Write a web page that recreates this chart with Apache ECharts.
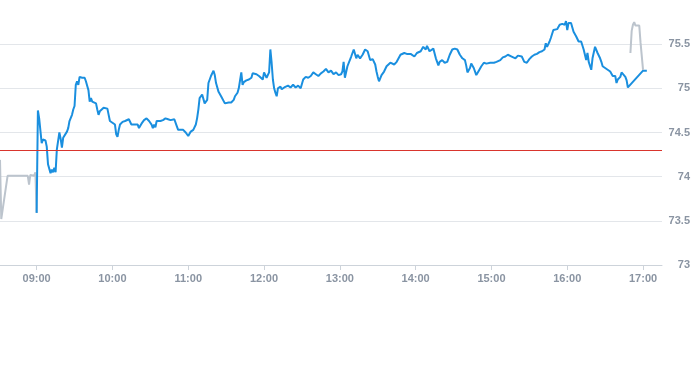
<!DOCTYPE html>
<html>
<head>
<meta charset="utf-8">
<script src="https://cdn.jsdelivr.net/npm/echarts@6/dist/echarts.min.js"></script>
<style>
  html, body { margin: 0; padding: 0; background: #fff; }
  #chart { width: 693px; height: 365px; }
</style>
</head>
<body>
<div id="chart"></div>
<script>
// one trading day, time + price
var day = '2024-01-02 ';

var preMarket = [
    ['08:31', 74.19], ['08:32', 73.52], ['08:37', 74.01], ['08:53', 74.01], ['08:54', 73.91],
    ['08:55', 74.02], ['08:56', 74.04], ['08:58', 74.01], ['08:59', 74.05], ['09:00', 73.59]
];

var mainSession = [
    ['09:00', 73.59], ['09:01', 74.75], ['09:02', 74.66], ['09:04', 74.38], ['09:05', 74.42], ['09:06', 74.40],
    ['09:07', 74.41], ['09:08', 74.34], ['09:09', 74.14], ['09:10', 74.12], ['09:11', 74.04], ['09:12', 74.08],
    ['09:13', 74.05], ['09:14', 74.10], ['09:15', 74.05], ['09:16', 74.31], ['09:18', 74.50], ['09:19', 74.43],
    ['09:20', 74.33], ['09:21', 74.44], ['09:22', 74.46], ['09:24', 74.51], ['09:25', 74.55], ['09:26', 74.63],
    ['09:27', 74.61], ['09:28', 74.70], ['09:29', 74.76], ['09:30', 74.80], ['09:31', 75.04], ['09:32', 75.08],
    ['09:33', 75.04], ['09:34', 75.13], ['09:35', 75.15], ['09:36', 75.12], ['09:37', 75.10], ['09:38', 75.12],
    ['09:39', 75.08], ['09:40', 75.03], ['09:41', 74.98], ['09:42', 74.85], ['09:43', 74.89], ['09:44', 74.85],
    ['09:45', 74.87], ['09:47', 74.83], ['09:48', 74.76], ['09:49', 74.70], ['09:50', 74.74], ['09:51', 74.76],
    ['09:53', 74.78], ['09:54', 74.79], ['09:56', 74.77], ['09:57', 74.70], ['09:58', 74.63], ['09:59', 74.65],

    ['10:00', 74.61], ['10:02', 74.59], ['10:03', 74.48], ['10:04', 74.45], ['10:05', 74.53], ['10:06', 74.59],
    ['10:08', 74.62], ['10:09', 74.60], ['10:10', 74.63], ['10:11', 74.61], ['10:13', 74.65], ['10:14', 74.66],
    ['10:15', 74.59], ['10:16', 74.61], ['10:18', 74.59], ['10:19', 74.57], ['10:20', 74.59], ['10:21', 74.55],
    ['10:23', 74.60], ['10:24', 74.59], ['10:25', 74.64], ['10:27', 74.66], ['10:28', 74.68], ['10:29', 74.63],
    ['10:31', 74.59], ['10:32', 74.55], ['10:33', 74.59], ['10:34', 74.56], ['10:35', 74.63], ['10:36', 74.65],
    ['10:38', 74.63], ['10:39', 74.65], ['10:40', 74.64], ['10:42', 74.66], ['10:43', 74.68], ['10:44', 74.65],
    ['10:46', 74.64], ['10:47', 74.65], ['10:49', 74.65], ['10:50', 74.63], ['10:51', 74.57], ['10:52', 74.53],
    ['10:54', 74.53], ['10:55', 74.51], ['10:56', 74.53], ['10:58', 74.50], ['10:59', 74.48],

    ['11:00', 74.46], ['11:02', 74.51], ['11:03', 74.53], ['11:04', 74.53], ['11:06', 74.59], ['11:07', 74.66],
    ['11:08', 74.76], ['11:09', 74.89], ['11:11', 74.93], ['11:12', 74.92], ['11:13', 74.83], ['11:15', 74.87],
    ['11:16', 75.06], ['11:17', 75.10], ['11:18', 75.14], ['11:19', 75.16], ['11:20', 75.20], ['11:21', 75.15],
    ['11:22', 75.06], ['11:24', 74.96], ['11:26', 74.91], ['11:27', 74.89], ['11:29', 74.83], ['11:30', 74.83],
    ['11:32', 74.84], ['11:34', 74.84], ['11:36', 74.87], ['11:37', 74.91], ['11:39', 74.95], ['11:40', 75.00],
    ['11:42', 75.18], ['11:43', 75.04], ['11:44', 75.07], ['11:46', 75.09], ['11:48', 75.10], ['11:50', 75.12],
    ['11:51', 75.17], ['11:52', 75.15], ['11:54', 75.16], ['11:56', 75.14], ['11:57', 75.15], ['11:59', 75.10],

    ['12:00', 75.18], ['12:02', 75.12], ['12:03', 75.10], ['12:04', 75.18], ['12:05', 75.44], ['12:06', 75.29],
    ['12:07', 75.10], ['12:08', 75.00], ['12:09', 74.95], ['12:10', 74.91], ['12:11', 75.00], ['12:13', 75.02],
    ['12:14', 74.99], ['12:16', 75.01], ['12:17', 74.99], ['12:19', 75.03], ['12:21', 75.01], ['12:23', 75.04],
    ['12:25', 75.01], ['12:27', 75.03], ['12:29', 75.00], ['12:31', 75.10], ['12:33', 75.13], ['12:35', 75.12],
    ['12:37', 75.14], ['12:39', 75.18], ['12:41', 75.16], ['12:43', 75.14], ['12:45', 75.17], ['12:47', 75.19],
    ['12:49', 75.22], ['12:50', 75.23], ['12:51', 75.18], ['12:53', 75.20], ['12:55', 75.16], ['12:57', 75.18],
    ['12:59', 75.15],

    ['13:01', 75.16], ['13:02', 75.19], ['13:03', 75.30], ['13:04', 75.12], ['13:06', 75.25], ['13:07', 75.27],
    ['13:09', 75.36], ['13:11', 75.44], ['13:13', 75.34], ['13:14', 75.38], ['13:16', 75.34], ['13:18', 75.38],
    ['13:20', 75.44], ['13:22', 75.42], ['13:24', 75.32], ['13:26', 75.33], ['13:28', 75.27], ['13:29', 75.19],
    ['13:30', 75.13], ['13:31', 75.08], ['13:33', 75.15], ['13:35', 75.19], ['13:37', 75.25], ['13:40', 75.29],
    ['13:43', 75.27], ['13:45', 75.30], ['13:48', 75.38], ['13:51', 75.40], ['13:53', 75.39], ['13:56', 75.39],
    ['13:59', 75.36],

    ['14:01', 75.40], ['14:04', 75.42], ['14:06', 75.47], ['14:08', 75.44], ['14:09', 75.48], ['14:11', 75.42],
    ['14:12', 75.44], ['14:14', 75.45], ['14:16', 75.34], ['14:18', 75.26], ['14:19', 75.30], ['14:21', 75.32],
    ['14:23', 75.29], ['14:25', 75.30], ['14:27', 75.38], ['14:29', 75.44], ['14:31', 75.45], ['14:33', 75.44],
    ['14:35', 75.38], ['14:37', 75.34], ['14:39', 75.32], ['14:40', 75.26], ['14:41', 75.18], ['14:43', 75.23],
    ['14:44', 75.28], ['14:46', 75.23], ['14:48', 75.15], ['14:50', 75.20], ['14:52', 75.25], ['14:54', 75.29],
    ['14:56', 75.28], ['14:59', 75.29],

    ['15:02', 75.29], ['15:04', 75.30], ['15:07', 75.32], ['15:09', 75.35], ['15:11', 75.36], ['15:13', 75.38],
    ['15:16', 75.36], ['15:19', 75.34], ['15:21', 75.37], ['15:24', 75.36], ['15:26', 75.30], ['15:28', 75.29],
    ['15:30', 75.33], ['15:32', 75.36], ['15:34', 75.38], ['15:36', 75.39], ['15:38', 75.41], ['15:40', 75.42],
    ['15:42', 75.44], ['15:43', 75.51], ['15:44', 75.47], ['15:46', 75.53], ['15:47', 75.57], ['15:49', 75.66],
    ['15:50', 75.68], ['15:52', 75.67], ['15:54', 75.72], ['15:56', 75.73], ['15:58', 75.72], ['15:59', 75.76],

    ['16:00', 75.66], ['16:01', 75.74], ['16:03', 75.74], ['16:05', 75.64], ['16:07', 75.59], ['16:09', 75.53],
    ['16:11', 75.53], ['16:13', 75.44], ['16:15', 75.32], ['16:16', 75.40], ['16:17', 75.30], ['16:18', 75.29],
    ['16:19', 75.21], ['16:20', 75.34], ['16:22', 75.47], ['16:23', 75.45], ['16:24', 75.40], ['16:26', 75.34],
    ['16:27', 75.30], ['16:28', 75.25], ['16:30', 75.23], ['16:32', 75.21], ['16:34', 75.19], ['16:36', 75.14],
    ['16:38', 75.14], ['16:39', 75.06], ['16:40', 75.10], ['16:42', 75.13], ['16:43', 75.18], ['16:44', 75.17],
    ['16:46', 75.13], ['16:47', 75.09], ['16:48', 75.01],
    ['17:00', 75.20], ['17:03', 75.20]
];

var afterHours = [
    ['16:50', 75.40], ['16:51', 75.65], ['16:52', 75.72], ['16:53', 75.75], ['16:54', 75.71],
    ['16:57', 75.71], ['16:58', 75.52], ['17:00', 75.21]
];

var prevClose = 74.3;

function toSeries(list) {
    return list.map(function (p) {
        return [new Date(day + p[0]).getTime(), p[1]];
    });
}

var chart = echarts.init(document.getElementById('chart'));

var option = {
    animation: false,
    grid: {
        left: 0,
        right: 29,
        top: 0,
        bottom: 100
    },
    xAxis: {
        type: 'time',
        min: new Date(day + '08:31').getTime(),
        max: new Date(day + '17:15').getTime(),
        minInterval: 3600 * 1000,
        maxInterval: 3600 * 1000,
        axisLine: { lineStyle: { color: '#cdd3da' } },
        axisTick: { show: true, length: 5, lineStyle: { color: '#cdd3da' } },
        splitLine: { show: false },
        axisLabel: {
            color: '#8a94a2',
            fontSize: 11,
            fontWeight: 'bold',
            margin: 8,
            formatter: '{HH}:{mm}'
        }
    },
    yAxis: {
        type: 'value',
        position: 'right',
        min: 73,
        max: 76,
        interval: 0.5,
        axisLine: { show: false },
        axisTick: { show: false },
        splitLine: { showMaxLine: false, lineStyle: { color: '#e3e6ea' } },
        axisLabel: {
            color: '#8a94a2',
            fontSize: 11,
            fontWeight: 'bold',
            align: 'right',
            margin: 28,
            showMaxLabel: false
        }
    },
    series: [
        {
            name: 'pre',
            type: 'line',
            showSymbol: false,
            lineStyle: { color: '#bcc4cd', width: 2 },
            data: toSeries(preMarket)
        },
        {
            name: 'main',
            type: 'line',
            showSymbol: false,
            lineStyle: { color: '#1a8fdf', width: 2 },
            data: toSeries(mainSession),
            markLine: {
                silent: true,
                symbol: 'none',
                label: { show: false },
                lineStyle: { color: '#d9352d', width: 1, type: 'solid' },
                data: [{ yAxis: prevClose }]
            }
        },
        {
            name: 'post',
            type: 'line',
            showSymbol: false,
            lineStyle: { color: '#bcc4cd', width: 2 },
            data: toSeries(afterHours)
        }
    ]
};

chart.setOption(option);
</script>
</body>
</html>
